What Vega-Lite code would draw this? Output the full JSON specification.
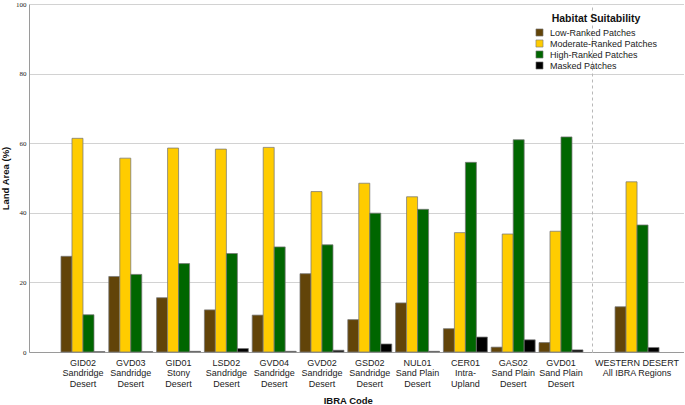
{
  "$schema": "https://vega.github.io/schema/vega-lite/v6.json",
  "padding": {"left": 0, "top": 0, "right": 0, "bottom": 0},
  "background": "white",
  "config": {
    "font": "Liberation Sans",
    "view": {"stroke": null},
    "concat": {"spacing": 0},
    "axis": {"gridColor": "#d2d2d2", "gridWidth": 1, "domainColor": "#9a9a9a", "ticks": false, "labelColor": "#222", "titleColor": "#111"}
  },
  "title": {"text": "IBRA Code", "orient": "bottom", "anchor": "middle", "fontSize": 9.5, "fontWeight": "bold", "offset": 8, "dx": 6, "color": "#111"},
  "data": {"values": [
    {"ibra": "GID02|Sandridge|Desert", "group": "IBRA", "patch": "Low-Ranked Patches", "area": 27.5},
    {"ibra": "GID02|Sandridge|Desert", "group": "IBRA", "patch": "Moderate-Ranked Patches", "area": 61.4},
    {"ibra": "GID02|Sandridge|Desert", "group": "IBRA", "patch": "High-Ranked Patches", "area": 10.7},
    {"ibra": "GID02|Sandridge|Desert", "group": "IBRA", "patch": "Masked Patches", "area": 0.1},
    {"ibra": "GVD03|Sandridge|Desert", "group": "IBRA", "patch": "Low-Ranked Patches", "area": 21.7},
    {"ibra": "GVD03|Sandridge|Desert", "group": "IBRA", "patch": "Moderate-Ranked Patches", "area": 55.7},
    {"ibra": "GVD03|Sandridge|Desert", "group": "IBRA", "patch": "High-Ranked Patches", "area": 22.3},
    {"ibra": "GVD03|Sandridge|Desert", "group": "IBRA", "patch": "Masked Patches", "area": 0.1},
    {"ibra": "GID01|Stony|Desert", "group": "IBRA", "patch": "Low-Ranked Patches", "area": 15.6},
    {"ibra": "GID01|Stony|Desert", "group": "IBRA", "patch": "Moderate-Ranked Patches", "area": 58.6},
    {"ibra": "GID01|Stony|Desert", "group": "IBRA", "patch": "High-Ranked Patches", "area": 25.4},
    {"ibra": "GID01|Stony|Desert", "group": "IBRA", "patch": "Masked Patches", "area": 0.2},
    {"ibra": "LSD02|Sandridge|Desert", "group": "IBRA", "patch": "Low-Ranked Patches", "area": 12.1},
    {"ibra": "LSD02|Sandridge|Desert", "group": "IBRA", "patch": "Moderate-Ranked Patches", "area": 58.3},
    {"ibra": "LSD02|Sandridge|Desert", "group": "IBRA", "patch": "High-Ranked Patches", "area": 28.3},
    {"ibra": "LSD02|Sandridge|Desert", "group": "IBRA", "patch": "Masked Patches", "area": 1.0},
    {"ibra": "GVD04|Sandridge|Desert", "group": "IBRA", "patch": "Low-Ranked Patches", "area": 10.6},
    {"ibra": "GVD04|Sandridge|Desert", "group": "IBRA", "patch": "Moderate-Ranked Patches", "area": 58.8},
    {"ibra": "GVD04|Sandridge|Desert", "group": "IBRA", "patch": "High-Ranked Patches", "area": 30.2},
    {"ibra": "GVD04|Sandridge|Desert", "group": "IBRA", "patch": "Masked Patches", "area": 0.2},
    {"ibra": "GVD02|Sandridge|Desert", "group": "IBRA", "patch": "Low-Ranked Patches", "area": 22.5},
    {"ibra": "GVD02|Sandridge|Desert", "group": "IBRA", "patch": "Moderate-Ranked Patches", "area": 46.1},
    {"ibra": "GVD02|Sandridge|Desert", "group": "IBRA", "patch": "High-Ranked Patches", "area": 30.8},
    {"ibra": "GVD02|Sandridge|Desert", "group": "IBRA", "patch": "Masked Patches", "area": 0.5},
    {"ibra": "GSD02|Sandridge|Desert", "group": "IBRA", "patch": "Low-Ranked Patches", "area": 9.3},
    {"ibra": "GSD02|Sandridge|Desert", "group": "IBRA", "patch": "Moderate-Ranked Patches", "area": 48.5},
    {"ibra": "GSD02|Sandridge|Desert", "group": "IBRA", "patch": "High-Ranked Patches", "area": 39.9},
    {"ibra": "GSD02|Sandridge|Desert", "group": "IBRA", "patch": "Masked Patches", "area": 2.3},
    {"ibra": "NUL01|Sand Plain|Desert", "group": "IBRA", "patch": "Low-Ranked Patches", "area": 14.1},
    {"ibra": "NUL01|Sand Plain|Desert", "group": "IBRA", "patch": "Moderate-Ranked Patches", "area": 44.6},
    {"ibra": "NUL01|Sand Plain|Desert", "group": "IBRA", "patch": "High-Ranked Patches", "area": 41.0},
    {"ibra": "NUL01|Sand Plain|Desert", "group": "IBRA", "patch": "Masked Patches", "area": 0.2},
    {"ibra": "CER01|Intra-|Upland", "group": "IBRA", "patch": "Low-Ranked Patches", "area": 6.7},
    {"ibra": "CER01|Intra-|Upland", "group": "IBRA", "patch": "Moderate-Ranked Patches", "area": 34.3},
    {"ibra": "CER01|Intra-|Upland", "group": "IBRA", "patch": "High-Ranked Patches", "area": 54.5},
    {"ibra": "CER01|Intra-|Upland", "group": "IBRA", "patch": "Masked Patches", "area": 4.3},
    {"ibra": "GAS02|Sand Plain|Desert", "group": "IBRA", "patch": "Low-Ranked Patches", "area": 1.4},
    {"ibra": "GAS02|Sand Plain|Desert", "group": "IBRA", "patch": "Moderate-Ranked Patches", "area": 33.9},
    {"ibra": "GAS02|Sand Plain|Desert", "group": "IBRA", "patch": "High-Ranked Patches", "area": 61.0},
    {"ibra": "GAS02|Sand Plain|Desert", "group": "IBRA", "patch": "Masked Patches", "area": 3.5},
    {"ibra": "GVD01|Sand Plain|Desert", "group": "IBRA", "patch": "Low-Ranked Patches", "area": 2.7},
    {"ibra": "GVD01|Sand Plain|Desert", "group": "IBRA", "patch": "Moderate-Ranked Patches", "area": 34.7},
    {"ibra": "GVD01|Sand Plain|Desert", "group": "IBRA", "patch": "High-Ranked Patches", "area": 61.8},
    {"ibra": "GVD01|Sand Plain|Desert", "group": "IBRA", "patch": "Masked Patches", "area": 0.6},
    {"ibra": "WESTERN DESERT|All IBRA Regions", "group": "All", "patch": "Low-Ranked Patches", "area": 13.0},
    {"ibra": "WESTERN DESERT|All IBRA Regions", "group": "All", "patch": "Moderate-Ranked Patches", "area": 48.9},
    {"ibra": "WESTERN DESERT|All IBRA Regions", "group": "All", "patch": "High-Ranked Patches", "area": 36.5},
    {"ibra": "WESTERN DESERT|All IBRA Regions", "group": "All", "patch": "Masked Patches", "area": 1.3}
  ]},
  "hconcat": [
    {
      "width": 563,
      "height": 348,
      "transform": [{"filter": "datum.group === 'IBRA'"}],
      "mark": {"type": "bar", "stroke": "#777", "strokeWidth": 0.75},
      "encoding": {
        "x": {"field": "ibra", "type": "nominal", "sort": null,
          "scale": {"paddingInner": 0.08, "paddingOuter": 0.429, "align": 0.78},
          "axis": {"title": null, "labelExpr": "split(datum.value, '|')", "labelAngle": 0, "labelFontSize": 9, "labelLineHeight": 10.5, "labelPadding": 6, "labelBaseline": "top"}},
        "xOffset": {"field": "patch", "type": "nominal", "sort": ["Low-Ranked Patches", "Moderate-Ranked Patches", "High-Ranked Patches", "Masked Patches"], "scale": {"paddingInner": 0, "paddingOuter": 0}},
        "y": {"field": "area", "type": "quantitative", "scale": {"domain": [0, 100]},
          "axis": {"title": "Land Area (%)", "values": [0, 20, 40, 60, 80, 100], "labelFontSize": 7, "labelFont": "Liberation Sans Narrow", "labelPadding": 3, "titleFontSize": 9.5, "titleFontWeight": "bold", "titlePadding": 5, "grid": true}},
        "color": {"field": "patch", "type": "nominal",
          "scale": {"domain": ["Low-Ranked Patches", "Moderate-Ranked Patches", "High-Ranked Patches", "Masked Patches"], "range": ["#624409", "#ffcc00", "#006600", "#000000"]},
          "legend": {"title": "Habitat Suitability", "orient": "none", "legendX": 506, "legendY": 9.5, "titleAnchor": "middle", "titleFontSize": 10.5, "titleFontWeight": "bold", "titleColor": "#111", "titlePadding": 4, "labelFontSize": 9, "labelColor": "#222", "symbolType": "square", "symbolSize": 50, "symbolStrokeColor": "#333", "symbolStrokeWidth": 0.6, "rowPadding": 0, "labelOffset": 6, "padding": 0}}
      }
    },
    {
      "width": 92,
      "height": 348,
      "transform": [{"filter": "datum.group === 'All'"}],
      "mark": {"type": "bar", "stroke": "#777", "strokeWidth": 0.75},
      "encoding": {
        "x": {"field": "ibra", "type": "nominal", "sort": null,
          "scale": {"paddingInner": 0, "paddingOuter": 0.5455, "align": 0.48},
          "axis": {"title": null, "labelExpr": "split(datum.value, '|')", "labelAngle": 0, "labelFontSize": 9, "labelLineHeight": 10.5, "labelPadding": 6, "labelBaseline": "top"}},
        "xOffset": {"field": "patch", "type": "nominal", "sort": ["Low-Ranked Patches", "Moderate-Ranked Patches", "High-Ranked Patches", "Masked Patches"], "scale": {"paddingInner": 0, "paddingOuter": 0}},
        "y": {"field": "area", "type": "quantitative", "scale": {"domain": [0, 100]},
          "axis": {"title": null, "labels": false, "values": [0, 20, 40, 60, 80, 100], "grid": true, "domain": true, "domainDash": [3, 3], "domainColor": "#b8b8b8"}},
        "color": {"field": "patch", "type": "nominal",
          "scale": {"domain": ["Low-Ranked Patches", "Moderate-Ranked Patches", "High-Ranked Patches", "Masked Patches"], "range": ["#624409", "#ffcc00", "#006600", "#000000"]}}
      }
    }
  ],
  "resolve": {"scale": {"x": "independent", "xOffset": "independent", "y": "independent", "color": "shared"}}
}
